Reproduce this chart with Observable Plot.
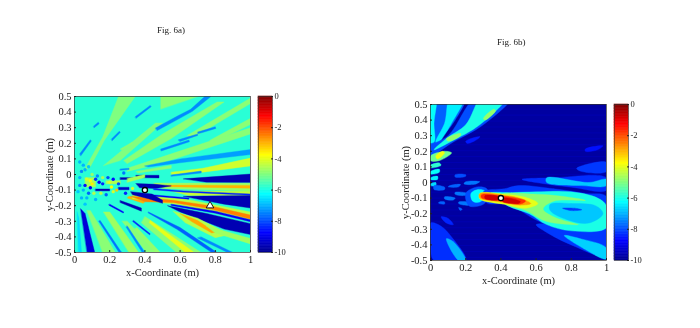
<!DOCTYPE html>
<html><head><meta charset="utf-8">
<script src="https://cdn.jsdelivr.net/npm/d3@7"></script>
<script src="https://cdn.jsdelivr.net/npm/@observablehq/plot@0.6"></script>
<style>
html,body{margin:0;padding:0;background:#fff;overflow:hidden}
#page{position:relative;width:700px;height:328px;filter:blur(.35px);font-family:"Liberation Serif",serif;color:#222}
#page svg{position:absolute;background:none}
.t{position:absolute;font-size:9px;white-space:nowrap}
.soft{filter:blur(.5px)}
</style></head><body><div id="page"></div>
<script>
const xTicks=[0,0.2,0.4,0.6,0.8,1];
const yTicks=[0.5,0.4,0.3,0.2,0.1,0,-0.1,-0.2,-0.3,-0.4,-0.5];
const barTicks=[0,-2,-4,-6,-8,-10];
const titles=["Fig. 6a)","Fig. 6b)"];
const xLabel="x-Coordinate (m)", yLabel="y-Coordinate (m)";
const backgroundA=-5.85, backgroundB=-9.8;
const sourcePoint=[[0.4,-0.1]];
const trianglePoint=[[0.77,-0.2]];
const jetStops=["#00008f","#0000ff","#0080ff","#00ffff","#80ff80","#ffff00","#ff8000","#ff0000","#800000"];

// Each outline: [level, x,y, x,y, ...]
const raysAUpper=[
[-5,.05,.02,.16,.24,.25,.5,.345,.5,.17,.22,.09,.05],
[-7.4,.345,.37,.43,.443,.436,.435,.35,.36],
[-7.4,.108,.31,.135,.335,.14,.325,.112,.3],
[-7.4,.21,.227,.255,.278,.26,.27,.214,.216],
[-7.4,.03,.133,.09,.223,.096,.215,.036,.12],
[-5,.165,.057,.46,.33,.5,.33,.26,.09],
[-7.4,.46,.298,.58,.372,.66,.418,.74,.5,.775,.5,.67,.405,.59,.355,.47,.282],
[-4.9,.49,.42,.49,.5,.7,.5],
[-4.9,.28,.09,.5,.26,.81,.465,.85,.465,.55,.23,.3,.07],
[-4.9,.26,.164,.327,.207,.33,.2,.27,.155],
[-4.9,.64,.25,1,.49,1,.455,.68,.24],
[-4.9,.77,.22,1,.36,1,.32,.78,.2],
[-4.9,.3,.04,.49,.11,1,.3,1,.26,.49,.07,.3,.02],
[-7.4,.7,.272,.8,.306,.803,.295,.703,.261],
[-7.4,.49,.163,.65,.221,.653,.21,.493,.151],
[-7.4,.59,.222,.7,.26,.7,.25,.6,.212],
[-7.2,.4,.055,.6,.1,1,.16,1,.128,.6,.075,.42,.048],
[-4.2,.55,.015,.73,.04,1,.105,1,.055,.73,.015,.55,0],
[-4.9,.35,.02,.55,.06,.55,.04,.36,.01],
[-7.4,.55,-.003,.72,.022,.72,.01,.55,-.012]
];
const raysARight=[
[-9.6,.62,-.028,1,.003,1,-.052,.75,-.05],
[-4.7,.45,-.055,1,-.056,1,-.105,.5,-.09],
[-3,.52,-.068,1,-.07,1,-.088,.52,-.078],
[-9.6,.35,-.058,.46,-.063,.55,-.073,.46,-.09,.37,-.085],
[-4.3,.55,-.105,1,-.108,1,-.135,.65,-.135],
[-8.4,.45,-.09,.62,-.105,1,-.125,1,-.133,.62,-.113,.45,-.098],
[-9.6,.62,-.14,1,-.135,1,-.215,.85,-.19],
[-4.4,.33,-.125,.6,-.15,1,-.24,1,-.3,.6,-.195,.33,-.155],
[-2.5,.32,-.14,.56,-.165,.77,-.2,1,-.26,1,-.285,.77,-.22,.56,-.18,.4,-.175],
[-8.8,.44,-.13,.65,-.15,.65,-.158,.44,-.138],
[-9.6,.32,-.11,.44,-.125,.5,-.165,.5,-.185,.42,-.155,.33,-.13],
[-8.8,.55,-.19,.8,-.235,1,-.29,1,-.303,.8,-.248,.55,-.198],
[-9.6,.53,-.2,.75,-.25,1,-.315,1,-.385,.85,-.35,.6,-.24],
[-4.5,.56,-.235,.7,-.28,.88,-.385,.8,-.405,.63,-.31],
[-2.9,.6,-.25,.7,-.295,.8,-.37,.78,-.375,.67,-.305],
[-4.7,.75,-.33,1,-.41,1,-.445,.8,-.375]
];
const raysALower=[
[-4.9,.4,-.27,.72,-.5,.58,-.5,.38,-.31],
[-7.8,.42,-.24,.6,-.34,.81,-.5,.78,-.5,.58,-.35,.42,-.247],
[-7.4,.72,-.4,.9,-.5,.87,-.5,.7,-.407],
[-4,.43,-.295,.68,-.5,.63,-.5,.425,-.31],
[-4.9,.3,-.3,.47,-.5,.41,-.5,.27,-.3],
[-9.2,.035,-.22,.06,-.25,.115,-.5,.072,-.5],
[-6.6,.015,-.24,.025,-.28,.04,-.5,.022,-.5],
[-4.9,.07,-.23,.09,-.23,.232,-.5,.16,-.5],
[-7.6,.146,-.295,.26,-.487,.27,-.5,.253,-.5,.138,-.3],
[-4.7,.165,-.24,.2,-.24,.365,-.5,.31,-.5],
[-8.4,.336,-.295,.43,-.38,.427,-.387,.331,-.302],
[-8.8,.2,-.19,.28,-.24,.277,-.247,.195,-.197],
[-9.6,.26,-.167,.38,-.215,.38,-.235,.26,-.18],
[-4.8,.355,-.34,.488,-.5,.46,-.5,.34,-.35],
[-7.4,.3,-.33,.4,-.5,.385,-.5,.293,-.337],
[-3,.31,-.14,.4,-.175,.39,-.185,.3,-.15]
];
const raysACore=[
[-9.6,.35,-.005,.48,-.005,.48,-.022,.35,-.02],
[-9.6,.26,-.02,.335,-.02,.335,-.032,.26,-.032],
[-9.4,.25,-.082,.31,-.082,.31,-.098,.25,-.098],
[-9.6,.12,-.093,.2,-.093,.2,-.105,.12,-.105],
[-7.4,.26,.035,.31,.04,.31,.032,.26,.027],
[-4.6,.3,-.025,.4,.0,.4,-.02,.3,-.05],
[-4.5,.18,-.04,.26,-.04,.26,-.06,.18,-.06],
[-4.6,.06,-.02,.12,-.02,.12,-.08,.06,-.08]
];
const specksA=[[.03,-.02,-7],[.04,.02,-7.4],[.03,-.07,-7.4],[.06,.03,-7],[.05,-.1,-7],[.02,-.11,-6.8],[.09,-.04,-3.8],[.1,-.06,-3.6],[.07,-.03,-4.2],
[.12,-.03,-8.2],[.14,-.05,-8.8],[.16,-.02,-4.6],[.16,-.06,-8.4],[.19,-.02,-8],[.2,-.05,-4.2],[.22,-.03,-8.6],[.08,-.12,-7.8],[.11,-.12,-4.5],[.15,-.12,-4.5],
[.18,-.13,-7.8],[.21,-.08,-3.8],[.22,-.11,-4.2],[.24,-.1,-3.2],[.25,-.06,-8],[.28,.01,-7.6],[.13,-.01,-7.4],[.1,.0,-4.8],[.08,.05,-6.8],[.05,.06,-7],[.03,.08,-7],[.07,-.15,-7],[.04,-.15,-7],[.06,-.19,-6.8],[.12,-.16,-7],[.29,-.12,-8.4],[.33,-.09,-4.3],[.06,-.07,-8.6],[.09,-.085,-8.8]];

const blobsBOuter=[
[-7.8,0,.56,.2,.56,.14,.4,.05,.27,0,.2],
[-6.2,-.02,.56,.03,.56,.02,.38,.02,.26,-.02,.26],
[-6.4,.115,.56,.195,.56,.13,.4,.04,.25,.03,.26,.08,.38],
[-8,.27,.56,.47,.56,.3,.37,.13,.26,-.02,.16,-.02,.22,.1,.3],
[-6,.3,.56,.44,.56,.28,.37,.12,.265,.02,.21,.1,.29,.2,.37],
[-4.8,.3,.41,.36,.47,.37,.46,.31,.4],
[-4.8,.09,.28,.17,.315,.17,.3,.1,.265],
[-8.5,.2,.265,.28,.295,.27,.28,.21,.25],
[-8.6,.88,.215,.98,.235,.95,.21,.88,.2],
[-8.2,.83,.09,1,.13,1,.07,.86,.07],
[-8.3,.52,.02,.7,.03,1,.03,1,-.05,.8,-.03,.6,0],
[-6.8,.66,.03,.9,.0,1,.02,1,-.02,.86,-.02,.66,.0],
[-8.3,0,-.26,.06,-.28,.12,-.35,.2,-.5,.02,-.5,0,-.4],
[-7,.09,-.36,.13,-.38,.2,-.5,.16,-.5],
[-8.4,.06,-.22,.1,-.23,.13,-.27,.09,-.26],
[-8.2,.6,-.27,.7,-.27,.85,-.32,1,-.33,1,-.47,.8,-.4,.66,-.32]
];
const blobsBLeft=[
[-5.2,0,.17,.08,.2,.12,.19,.05,.14,0,.14],
[-3.9,.03,.17,.07,.2,.08,.19,.04,.15],
[-5.8,0,.11,.05,.125,.06,.11,0,.095],
[-6.2,0,.07,.05,.085,.05,.065,0,.055],
[-6.4,0,.03,.04,.04,.04,.02,0,.02],
[-6.6,0,-.01,.03,0,.03,-.02,0,-.02]
];
const blobsBSpots=[
[-8,.14,.05,.2,.05,.2,.04,.14,.035],[-7.6,.2,.005,.28,.005,.25,-.012,.19,-.008],[-7.8,.11,-.02,.17,-.012,.16,-.028,.1,-.028],[-7.8,.02,-.02,.08,-.03,.08,-.045,.02,-.045],
[-7.6,.14,-.063,.21,-.07,.2,-.082,.14,-.076],[-7.6,.08,-.092,.14,-.1,.13,-.112,.08,-.105],[-7.8,.05,-.125,.08,-.125,.08,-.138,.045,-.132],[-7.6,.16,-.125,.23,-.13,.22,-.145,.16,-.135],
[-8,.2,-.07,.26,-.03,.32,-.04,.33,-.09,.3,-.14,.22,-.15],[-6.3,.23,-.07,.27,-.045,.31,-.055,.31,-.09,.28,-.125,.24,-.12],[-7.8,.18,-.17,.16,-.16,.17,-.18]
];
const blobsBLobe=[
[-8.2,.5,-.02,.7,-.04,.88,-.07,1,-.09,1,-.33,.78,-.32,.6,-.24,.44,-.14,.32,-.13,.3,-.06,.42,-.04],
[-6,.34,-.07,.46,-.065,.6,-.06,.8,-.06,.95,-.1,1,-.15,1,-.29,.8,-.31,.66,-.27,.56,-.2,.44,-.15],
[-4.9,.4,-.08,.6,-.075,.76,-.09,.88,-.115,.7,-.12,.64,-.17,.7,-.22,.81,-.26,.84,-.27,.66,-.25,.54,-.18,.43,-.14],
[-4,.28,-.07,.42,-.075,.54,-.095,.61,-.135,.54,-.165,.42,-.14,.28,-.105],
[-2.8,.28,-.072,.4,-.078,.52,-.105,.57,-.135,.5,-.145,.4,-.125,.28,-.1],
[-1.7,.29,-.078,.4,-.085,.54,-.118,.51,-.138,.4,-.12,.29,-.098],
[-.8,.31,-.084,.39,-.092,.385,-.11,.31,-.102],[-.8,.41,-.1,.51,-.122,.5,-.134,.41,-.122],
[-6.8,.68,-.14,.8,-.135,.94,-.15,.98,-.2,.9,-.26,.78,-.24,.68,-.18],
[-8.2,.75,-.165,.82,-.165,.86,-.175,.8,-.18],
[-6.7,.76,-.34,.85,-.36,1,-.42,1,-.49,.88,-.43]
];
const stripeYs=[-.48,-.442,-.404,-.366,-.328,-.29,-.252,-.214,-.176,-.138,-.1,-.062,-.024,.014,.052,.09,.128,.166,.204,.242,.28,.318,.356,.394,.432,.47];

const page=document.getElementById("page");
const colorScale=()=>({type:"linear",domain:jetStops.map((c,i)=>-10+i*10/(jetStops.length-1)),range:jetStops,clamp:true});
const toRows=list=>list.flatMap((o,id)=>{const r=[];for(let i=1;i<o.length;i+=2)r.push({id,v:o[0],x:o[i],y:o[i+1]});return r;});
const font={fontFamily:"Liberation Serif",fontSize:8.5,color:"#222",background:"none",overflow:"visible"};
const fmt=d=>String(d);

function panel(left,top,bg,layers,extra){
  const innerW=176,innerH=156,mL=52,mT=4,mB=34;
  const svg=Plot.plot({
    width:mL+innerW+2,height:mT+innerH+mB,marginLeft:mL,marginRight:2,marginTop:mT,marginBottom:mB,
    style:font,clip:true,
    x:{domain:[0,1],label:null},y:{domain:[-.5,.5],label:null},color:colorScale(),
    marks:[
      Plot.rect([bg],{x1:0,x2:1,y1:-.5,y2:.5,fill:d=>d}),
      ...layers,...extra,
      Plot.frame({stroke:"#333",strokeWidth:.7}),
      Plot.axisX(xTicks,{anchor:"bottom",tickSize:-2,tickPadding:5,tickFormat:fmt,label:xLabel,labelAnchor:"center",labelArrow:"none",labelOffset:23,fontSize:8.5,clip:false}),
      Plot.axisY(yTicks,{anchor:"left",tickSize:-2,tickPadding:5,tickFormat:fmt,label:yLabel,labelAnchor:"center",labelArrow:"none",labelOffset:29,fontSize:8.5,clip:false})
    ]});
  svg.style.left=(left-mL)+"px";svg.style.top=(top-mT)+"px";
  svg.querySelectorAll('g[aria-label$="label"] text').forEach(t=>t.setAttribute("font-size","10.5"));
  svg.querySelectorAll('g[aria-label="line"],g[aria-label="dot"]').forEach(g=>g.classList.add("soft"));
  page.append(svg);
}
function colorbar(left,top){
  const levels=d3.range(-10,0,.1);
  const svg=Plot.plot({
    width:14+24,height:164,marginLeft:0,marginRight:24,marginTop:4,marginBottom:4,style:font,
    x:{domain:[0,1],axis:null},y:{domain:[-10,0],label:null},color:colorScale(),
    marks:[
      Plot.rect(levels,{x1:0,x2:1,y1:d=>d,y2:d=>d+.1,fill:d=>d+.05,stroke:d=>d+.05,strokeWidth:.6}),
      Plot.frame({stroke:"#333",strokeWidth:.6}),
      Plot.axisY(barTicks,{anchor:"right",tickSize:-2,tickPadding:4,tickFormat:fmt,label:null,fontSize:8.5})
    ]});
  svg.style.left=left+"px";svg.style.top=(top-4)+"px";
  page.append(svg);
}
const polys=(list,curve)=>Plot.line(toRows(list),{x:"x",y:"y",z:"id",fill:"v",stroke:"v",strokeWidth:.4,curve});
const marker=(pts,symbol,r)=>Plot.dot(pts,{x:d=>d[0],y:d=>d[1],symbol,r,fill:"#fff",stroke:"#000",strokeWidth:symbol==="circle"?1.3:.9,ariaLabel:"marker"});

panel(74,96,backgroundA,[
  polys(raysAUpper,"linear-closed"),polys(raysALower,"linear-closed"),polys(raysARight,"linear-closed"),polys(raysACore,"linear-closed"),
  Plot.dot(specksA,{x:d=>d[0],y:d=>d[1],fill:d=>d[2],r:1.7,stroke:"none"})
],[marker(sourcePoint,"circle",2.6),marker(trianglePoint,"triangle",2.8)]);
panel(430,104,backgroundB,[
  Plot.ruleY(stripeYs,{stroke:"#0000c0",strokeOpacity:.5,strokeWidth:1}),
  polys(blobsBOuter,"catmull-rom-closed"),polys(blobsBLeft,"catmull-rom-closed"),polys(blobsBSpots,"catmull-rom-closed"),polys(blobsBLobe,"catmull-rom-closed")
],[marker(sourcePoint,"circle",2.6)]);
colorbar(258,96);
colorbar(614,104);
[[titles[0],157,25],[titles[1],497,37]].forEach(([s,x,y])=>{const d=document.createElement("div");d.className="t";d.textContent=s;d.style.left=x+"px";d.style.top=y+"px";page.append(d);});
</script></body></html>
